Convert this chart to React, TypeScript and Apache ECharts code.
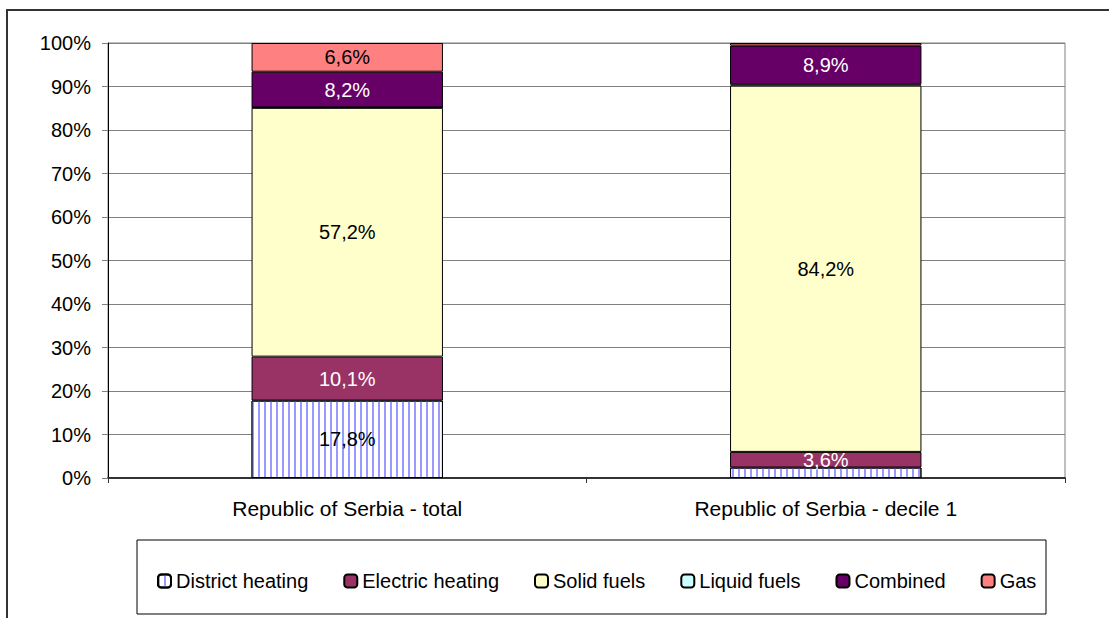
import React, { useEffect, useRef } from "react";
import * as echarts from "echarts";

const categories = ["Republic of Serbia - total", "Republic of Serbia - decile 1"];
const districtHeating = [17.8, 2.4];
const electricHeating = [10.1, 3.6];
const solidFuels = [57.2, 84.2];
const liquidFuels = [0.1, 0.3];
const combined = [8.2, 8.9];
const gas = [6.6, 0.6];

const seriesDefs = [
  { name: "District heating", data: districtHeating, color: "#ffffff", labelColor: "#000" },
  { name: "Electric heating", data: electricHeating, color: "#993366", labelColor: "#fff" },
  { name: "Solid fuels", data: solidFuels, color: "#ffffcc", labelColor: "#000" },
  { name: "Liquid fuels", data: liquidFuels, color: "#ccffff", labelColor: "#000" },
  { name: "Combined", data: combined, color: "#660066", labelColor: "#fff" },
  { name: "Gas", data: gas, color: "#ff8080", labelColor: "#000" },
];

const FONT = "'Liberation Sans', Arial, sans-serif";

export default function App() {
  const ref = useRef<HTMLDivElement>(null);
  useEffect(() => {
    if (!ref.current) return;
    const chart = echarts.init(ref.current, null, { renderer: "svg" });
    const series = seriesDefs.map((s, i) => ({
      name: s.name,
      type: "bar",
      stack: "total",
      barWidth: "40%",
      data: s.data,
      itemStyle: {
        color: s.color,
        borderColor: "#000",
        borderWidth: 1,
        ...(i === 0
          ? {
              decal: {
                symbol: "rect",
                symbolSize: 1,
                color: "#9999ff",
                dashArrayX: [2, 4],
                dashArrayY: [4, 0],
                rotation: 0,
              },
            }
          : {}),
      },
      label: {
        show: true,
        position: "inside",
        color: s.labelColor,
        fontFamily: FONT,
        fontSize: 20,
        formatter: (p: any) =>
          p.value >= 3 ? p.value.toFixed(1).replace(".", ",") + "%" : "",
      },
    }));
    chart.setOption({
      animation: false,
      backgroundColor: "#fff",
      textStyle: { fontFamily: FONT },
      grid: {
        left: 108,
        top: 43,
        width: 957,
        height: 435,
        show: true,
        borderColor: "#808080",
        borderWidth: 1,
      },
      legend: {
        left: 152,
        top: 566,
        itemWidth: 13,
        itemHeight: 13,
        itemGap: 35,
        textStyle: { fontSize: 20, color: "#000", fontFamily: FONT },
        data: seriesDefs.map((s) => s.name),
      },
      xAxis: {
        type: "category",
        data: categories,
        axisLine: { lineStyle: { color: "#333", width: 2 } },
        axisTick: { show: true, length: 5, lineStyle: { color: "#333" } },
        axisLabel: { color: "#000", fontSize: 21, margin: 20, fontFamily: FONT },
      },
      yAxis: {
        type: "value",
        min: 0,
        max: 100,
        interval: 10,
        axisLine: { show: true, lineStyle: { color: "#000", width: 1 } },
        axisTick: { show: true, length: 6, lineStyle: { color: "#808080" } },
        axisLabel: {
          color: "#000",
          fontSize: 20,
          margin: 17,
          fontFamily: FONT,
          formatter: "{value}%",
        },
        splitLine: { lineStyle: { color: "#808080", width: 1 } },
      },
      graphic: [
        {
          type: "rect",
          z: -1,
          shape: { x: 7, y: 10, width: 1120, height: 630 },
          style: { fill: "transparent", stroke: "#333", lineWidth: 2 },
        },
        {
          type: "rect",
          z: -1,
          shape: { x: 137, y: 540, width: 909, height: 74 },
          style: { fill: "transparent", stroke: "#000", lineWidth: 1 },
        },
      ],
      series,
    });
    return () => chart.dispose();
  }, []);
  return (
    <div
      ref={ref}
      style={{ position: "fixed", left: 0, top: 0, width: 1109, height: 618 }}
    />
  );
}
